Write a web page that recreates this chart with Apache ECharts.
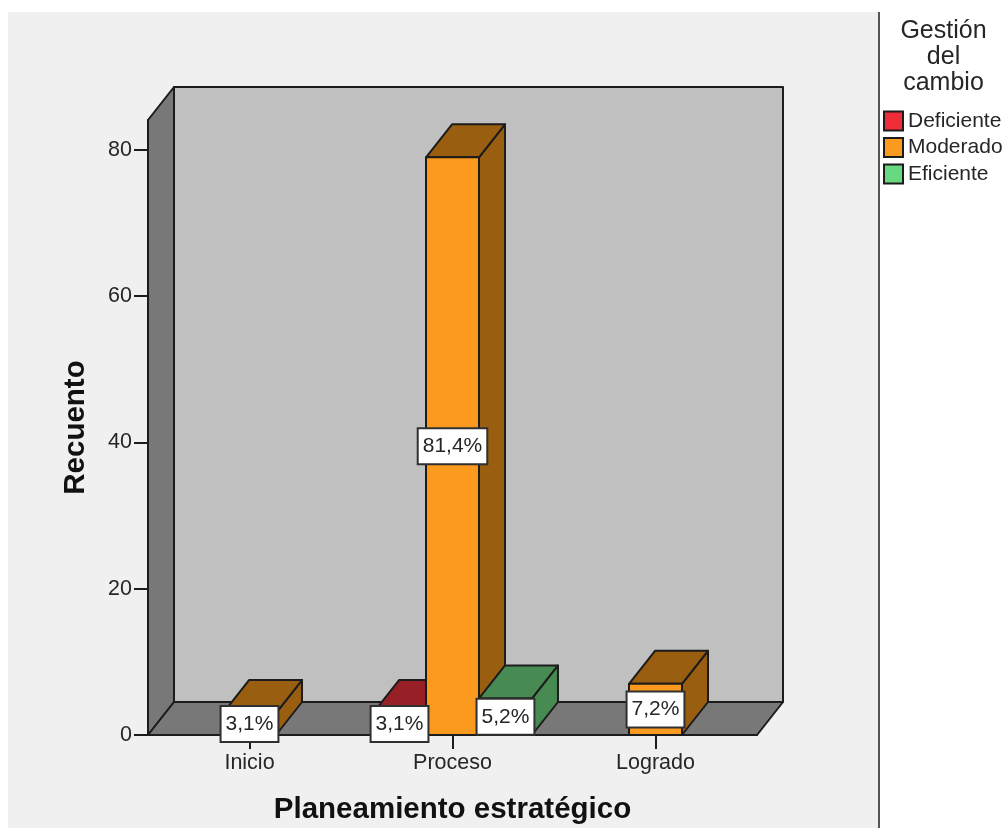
<!DOCTYPE html>
<html>
<head>
<meta charset="utf-8">
<style>html,body{margin:0;padding:0;background:#fff}#chart{width:1006px;height:828px}</style>
<script src="https://cdn.jsdelivr.net/npm/echarts@6/dist/echarts.min.js"></script>
</head>
<body>
<div id="chart"></div>
<script>
// Recuento por nivel de planeamiento estratégico y de gestión del cambio
const categories = ['Inicio', 'Proceso', 'Logrado'];
const deficiente = [null, 3, null];
const moderado = [3, 79, 7];
const eficiente = [null, 5, null];
const etiquetasDeficiente = [null, '3,1%', null];
const etiquetasModerado = ['3,1%', '81,4%', '7,2%'];
const etiquetasEficiente = [null, '5,2%', null];
const yTicks = [0, 20, 40, 60, 80];

const FONT = '"Liberation Sans", Arial, sans-serif';
const INK = '#1c1c1c';
const TEXT = '#262626';
const DEPTH_X = 26, DEPTH_Y = 33;
const BAR_SHARE = 0.261;

const groups = [
  { name: 'Deficiente', values: deficiente, labels: etiquetasDeficiente, front: '#ee2d38', shade: '#962026' },
  { name: 'Moderado', values: moderado, labels: etiquetasModerado, front: '#fb9a1e', shade: '#9a5e11' },
  { name: 'Eficiente', values: eficiente, labels: etiquetasEficiente, front: '#66d981', shade: '#478b53' }
];

// Horizontal slot of a bar inside its cluster: only the levels present in a category share it
function slotOffset(groupIndex, catIndex) {
  const present = groups.map((g, i) => g.values[catIndex] != null ? i : -1).filter(i => i >= 0);
  return present.indexOf(groupIndex) - (present.length - 1) / 2;
}

function poly(points, fill) {
  return {
    type: 'polygon',
    shape: { points },
    style: { fill, stroke: INK, lineWidth: 2, lineJoin: 'round' }
  };
}

function renderWalls(params) {
  const c = params.coordSys;
  const l = c.x, r = c.x + c.width, t = c.y, b = c.y + c.height;
  const dx = DEPTH_X, dy = DEPTH_Y;
  return {
    type: 'group',
    children: [
      poly([[l + dx, t - dy], [r + dx, t - dy], [r + dx, b - dy], [l + dx, b - dy]], '#c0c0c0'),
      poly([[l, t], [l + dx, t - dy], [l + dx, b - dy], [l, b]], '#787878'),
      poly([[l, b], [l + dx, b - dy], [r + dx, b - dy], [r, b]], '#787878')
    ]
  };
}

function makeBarRenderer(groupIndex, group) {
  return function (params, api) {
    const cat = api.value(0), val = api.value(1);
    const band = api.size([1, 0])[0];
    const w = band * BAR_SHARE;
    const base = api.coord([cat, 0]);
    const top = api.coord([cat, val]);
    const x0 = base[0] + (slotOffset(groupIndex, cat) - 0.5) * w;
    const x1 = x0 + w;
    const dx = DEPTH_X, dy = DEPTH_Y;
    return {
      type: 'group',
      children: [
        poly([[x1, base[1]], [x1 + dx, base[1] - dy], [x1 + dx, top[1] - dy], [x1, top[1]]], group.shade),
        poly([[x0, top[1]], [x0 + dx, top[1] - dy], [x1 + dx, top[1] - dy], [x1, top[1]]], group.shade),
        poly([[x0, base[1]], [x0, top[1]], [x1, top[1]], [x1, base[1]]], group.front)
      ]
    };
  };
}

function renderLabel(params, api) {
  const g = api.value(2), cat = api.value(0), val = api.value(1);
  const w = api.size([1, 0])[0] * BAR_SHARE;
  const base = api.coord([cat, 0]);
  const top = api.coord([cat, val]);
  return {
    type: 'text',
    style: {
      x: base[0] + slotOffset(g, cat) * w,
      y: (base[1] + top[1]) / 2,
      text: groups[g].labels[cat],
      align: 'center',
      verticalAlign: 'middle',
      font: '21px ' + FONT,
      fill: TEXT,
      backgroundColor: '#ffffff',
      borderColor: '#303030',
      borderWidth: 2,
      padding: [7, 4, 6, 4]
    }
  };
}

const series = [{
  name: 'paredes',
  type: 'custom',
  z: 1,
  silent: true,
  clip: false,
  renderItem: renderWalls,
  data: [[0, 0]]
}];

groups.forEach((g, i) => {
  series.push({
    name: g.name,
    type: 'custom',
    z: 2 + i,
    clip: false,
    itemStyle: { color: g.front },
    renderItem: makeBarRenderer(i, g),
    encode: { x: 0, y: 1 },
    data: g.values.map((v, c) => v == null ? null : [c, v]).filter(Boolean)
  });
});

const labelData = [];
groups.forEach((g, i) => g.values.forEach((v, c) => { if (v != null) labelData.push([c, v, i]); }));
series.push({
  name: 'porcentajes',
  type: 'custom',
  z: 10,
  clip: false,
  renderItem: renderLabel,
  encode: { x: 0, y: 1 },
  data: labelData
});

const chart = echarts.init(document.getElementById('chart'), null, { renderer: 'canvas' });
chart.setOption({
  animation: false,
  backgroundColor: '#ffffff',
  graphic: {
    elements: [
      { type: 'rect', z: -10, shape: { x: 8, y: 12, width: 870, height: 816 }, style: { fill: '#f0f0f0' } },
      { type: 'rect', z: -10, shape: { x: 878, y: 12, width: 2, height: 816 }, style: { fill: '#555555' } }
    ]
  },
  title: {
    text: 'Gestión\ndel\ncambio',
    left: 938.5,
    top: 13,
    textAlign: 'center',
    textStyle: { fontFamily: FONT, fontSize: 25, fontWeight: 'normal', color: TEXT, lineHeight: 26 }
  },
  legend: {
    data: groups.map(g => g.name),
    orient: 'vertical',
    left: 883,
    top: 110.5,
    padding: 0,
    itemWidth: 19,
    itemHeight: 19,
    itemGap: 5.5,
    icon: 'rect',
    selectedMode: false,
    itemStyle: { borderColor: INK, borderWidth: 2 },
    textStyle: { fontFamily: FONT, fontSize: 21, color: TEXT }
  },
  grid: { left: 148, top: 120, width: 609, height: 615, outerBoundsMode: 'none' },
  xAxis: {
    type: 'category',
    data: categories,
    name: 'Planeamiento estratégico',
    nameLocation: 'middle',
    nameGap: 60,
    nameTextStyle: { fontFamily: FONT, fontSize: 29.5, fontWeight: 'bold', color: '#111111' },
    axisLine: { show: true, lineStyle: { color: INK, width: 2 } },
    axisTick: { show: true, alignWithLabel: true, length: 14, lineStyle: { color: INK, width: 2 } },
    axisLabel: { fontFamily: FONT, fontSize: 21.5, color: TEXT, margin: 17 }
  },
  yAxis: {
    type: 'value',
    min: 0,
    max: 84.1,
    interval: 20,
    name: 'Recuento',
    nameLocation: 'middle',
    nameGap: 57,
    nameTextStyle: { fontFamily: FONT, fontSize: 29.5, fontWeight: 'bold', color: '#111111' },
    splitLine: { show: false },
    axisLine: { show: true, lineStyle: { color: INK, width: 2 } },
    axisTick: { show: true, length: 14, customValues: yTicks, lineStyle: { color: INK, width: 2 } },
    axisLabel: { fontFamily: FONT, fontSize: 21.5, color: TEXT, margin: 16, padding: [4, 0, 0, 0], customValues: yTicks }
  },
  series
});
</script>
</body>
</html>
